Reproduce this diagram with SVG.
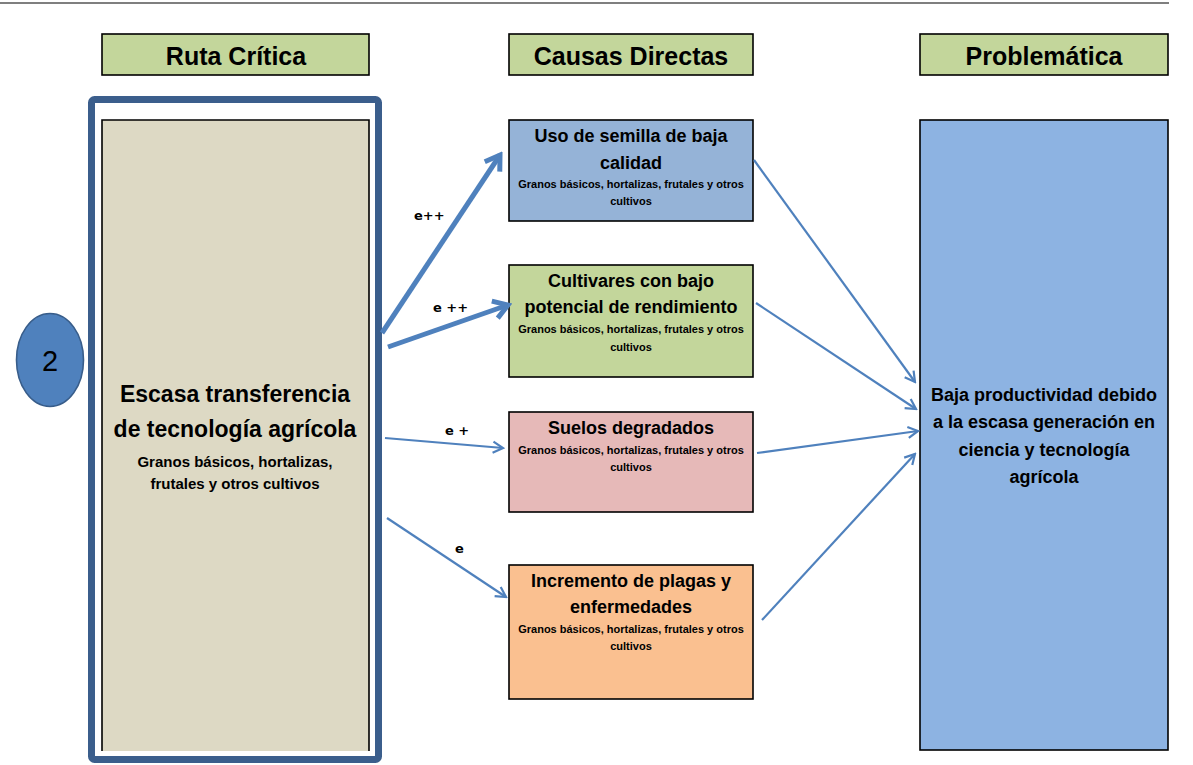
<svg xmlns="http://www.w3.org/2000/svg" width="1193" height="765" viewBox="0 0 1193 765">
<defs>
<style>
.t{font-family:"Liberation Sans",Arial,sans-serif;font-weight:bold;fill:#000;text-anchor:middle}
.hdr{font-size:25px}
.ttl{font-size:18px}
.sub{font-size:11px}
.lbl{font-family:"DejaVu Sans",Verdana,sans-serif;font-weight:bold;font-size:13px;fill:#000}
.box{stroke:#000;stroke-width:1.6}
.thick{stroke:#4f81bd;stroke-width:5;fill:none;stroke-linecap:butt}
.thin{stroke:#4f81bd;stroke-width:2.2;fill:none}
</style>
<marker id="ahThick" markerUnits="userSpaceOnUse" viewBox="-20 -12 24 24" markerWidth="24" markerHeight="24" refX="0" refY="0" orient="auto">
<path d="M-14,-9 L0,0 L-14,9" fill="none" stroke="#4f81bd" stroke-width="5" stroke-linejoin="miter"/>
</marker>
<marker id="ahThin" markerUnits="userSpaceOnUse" viewBox="-14 -8 16 16" markerWidth="16" markerHeight="16" refX="0" refY="0" orient="auto">
<path d="M-10,-5.5 L0,0 L-10,5.5" fill="none" stroke="#4f81bd" stroke-width="2.2"/>
</marker>
</defs>
<rect width="1193" height="765" fill="#fff"/>
<line x1="0" y1="3" x2="1169" y2="3" stroke="#000" stroke-width="1.2"/>

<g id="hdr-ruta">
<rect class="box" x="102" y="34" width="267" height="41" fill="#c3d69b"/>
<text class="t hdr" x="236" y="65">Ruta Crítica</text>
</g>
<g id="hdr-causas">
<rect class="box" x="509" y="34" width="244" height="41" fill="#c3d69b"/>
<text class="t hdr" x="631" y="65">Causas Directas</text>
</g>
<g id="hdr-problematica">
<rect class="box" x="920" y="34" width="248" height="41" fill="#c3d69b"/>
<text class="t hdr" x="1044" y="65">Problemática</text>
</g>

<g id="ruta-critica">
<rect x="91.5" y="99.5" width="287" height="660" rx="3" fill="#fff" stroke="#3b5e8c" stroke-width="7"/>
<rect x="102" y="120" width="267" height="631" fill="#ddd9c4"/>
<path d="M102,751 V120 H369 V751" fill="none" stroke="#000" stroke-width="1.6"/>
<text class="t" font-size="23" x="235" y="402">Escasa transferencia</text>
<text class="t" font-size="23" x="235" y="437">de tecnología agrícola</text>
<text class="t" font-size="15" x="235" y="467">Granos básicos, hortalizas,</text>
<text class="t" font-size="15" x="235" y="489">frutales y otros cultivos</text>
</g>

<g id="numero">
<ellipse cx="50" cy="360" rx="33.5" ry="46.5" fill="#4f81bd" stroke="#385d8a" stroke-width="1.6"/>
<text x="50" y="371" font-family="'Liberation Sans',Arial,sans-serif" font-size="29" text-anchor="middle" fill="#000">2</text>
</g>

<g id="causa-semilla">
<rect class="box" x="509" y="120" width="244" height="101" fill="#95b3d7"/>
<text class="t ttl" x="631" y="142">Uso de semilla de baja</text>
<text class="t ttl" x="631" y="169">calidad</text>
<text class="t sub" x="631" y="188">Granos básicos, hortalizas, frutales y otros</text>
<text class="t sub" x="631" y="205">cultivos</text>
</g>

<g id="causa-cultivares">
<rect class="box" x="509" y="265" width="244" height="112" fill="#c3d69b"/>
<text class="t ttl" x="631" y="287">Cultivares con bajo</text>
<text class="t ttl" x="631" y="313">potencial de rendimiento</text>
<text class="t sub" x="631" y="333">Granos básicos, hortalizas, frutales y otros</text>
<text class="t sub" x="631" y="351">cultivos</text>
</g>

<g id="causa-suelos">
<rect class="box" x="509" y="412" width="244" height="100" fill="#e6b9b8"/>
<text class="t ttl" x="631" y="434">Suelos degradados</text>
<text class="t sub" x="631" y="454">Granos básicos, hortalizas, frutales y otros</text>
<text class="t sub" x="631" y="471">cultivos</text>
</g>

<g id="causa-plagas">
<rect class="box" x="509" y="565" width="244" height="134" fill="#fac090"/>
<text class="t ttl" x="631" y="587">Incremento de plagas y</text>
<text class="t ttl" x="631" y="613">enfermedades</text>
<text class="t sub" x="631" y="633">Granos básicos, hortalizas, frutales y otros</text>
<text class="t sub" x="631" y="650">cultivos</text>
</g>

<g id="problematica">
<rect class="box" x="920" y="120" width="248" height="630" fill="#8db3e2"/>
<text class="t ttl" x="1044" y="401">Baja productividad debido</text>
<text class="t ttl" x="1044" y="428">a la escasa generación en</text>
<text class="t ttl" x="1044" y="456">ciencia y tecnología</text>
<text class="t ttl" x="1044" y="483">agrícola</text>
</g>

<g id="connectors">
<line class="thick" x1="382" y1="333" x2="500" y2="155" marker-end="url(#ahThick)"/>
<line class="thick" x1="388" y1="347" x2="508" y2="305" marker-end="url(#ahThick)"/>
<line class="thin" x1="385" y1="438" x2="503" y2="448" marker-end="url(#ahThin)"/>
<line class="thin" x1="387" y1="518" x2="506" y2="597" marker-end="url(#ahThin)"/>
<line class="thin" x1="754" y1="160" x2="915" y2="382" marker-end="url(#ahThin)"/>
<line class="thin" x1="756" y1="303" x2="916" y2="409" marker-end="url(#ahThin)"/>
<line class="thin" x1="757" y1="453" x2="918" y2="431" marker-end="url(#ahThin)"/>
<line class="thin" x1="762" y1="620" x2="915" y2="454" marker-end="url(#ahThin)"/>
<text class="lbl" x="414" y="220">e++</text>
<text class="lbl" x="433" y="312">e ++</text>
<text class="lbl" x="445" y="435">e +</text>
<text class="lbl" x="455" y="553">e</text>
</g>
</svg>
